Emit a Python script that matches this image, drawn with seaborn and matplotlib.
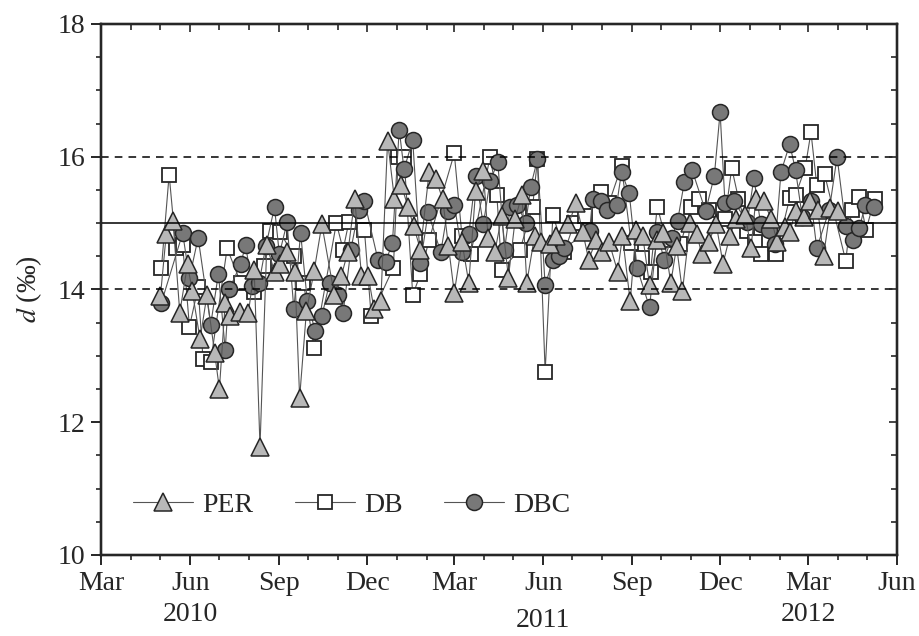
import numpy as np
import pandas as pd
import matplotlib
matplotlib.use('Agg')
import matplotlib.pyplot as plt
import matplotlib.dates as mdates
import matplotlib.transforms as mtransforms
import seaborn as sns

##################################################################
sns.set_style('ticks')
matplotlib.rcParams.update({'font.family': 'serif', 'font.serif': ['Liberation Serif', 'DejaVu Serif'],
                            'mathtext.fontset': 'stix'})
##################################################################
# sampling day (days since 2010-03-01) and d (permil) for each method
per_day = [61, 67, 74, 81, 89, 94, 102, 109, 117, 122, 128, 133, 143, 152, 158, 164, 171, 179, 185, 192,
           200, 205, 212, 220, 228, 241, 248, 255, 262, 269, 276, 282, 289, 296, 303, 310, 317, 323, 330, 339,
           346, 353, 359, 365, 373, 380, 387, 395, 400, 407, 414, 421, 428, 435, 440, 448, 455, 464, 470, 483,
           491, 498, 504, 512, 518, 525, 534, 539, 547, 553, 560, 567, 575, 581, 589, 595, 601, 609, 616, 621,
           628, 636, 643, 650, 656, 666, 672, 677, 685, 693, 699, 707, 712, 718, 727, 733, 741, 747, 754, 762]
per_val = [13.9, 14.83, 15.03, 13.65, 14.38, 13.97, 13.25, 13.91, 13.05, 12.5, 13.8, 13.6, 13.66, 13.65, 14.29,
           11.63, 14.67, 14.26, 14.38, 14.56, 14.26, 12.37, 13.67, 14.28, 14.98, 13.91, 14.2, 14.57, 15.36, 14.21,
           14.2, 13.7, 13.82, 16.24, 15.37, 15.58, 15.25, 14.95, 14.6, 15.77, 15.66, 15.36, 14.65, 13.95, 14.71,
           14.1, 15.48, 15.78, 14.78, 14.57, 15.1, 14.18, 15.06, 15.43, 14.1, 14.8, 14.72, 14.68, 14.8, 14.98,
           15.3, 14.86, 14.45, 14.75, 14.56, 14.72, 14.27, 14.8, 13.82, 14.9, 14.8, 14.06, 14.75, 14.85, 14.1,
           14.65, 13.97, 15.0, 14.83, 14.53, 14.72, 14.98, 14.39, 14.8, 15.06, 15.12, 14.62, 15.37, 15.33, 15.06,
           14.71, 14.94, 14.86, 15.18, 15.09, 15.33, 15.2, 14.5, 15.22, 15.18]

db_day = [62, 70, 77, 84, 91, 100, 105, 113, 130, 144, 158, 168, 174, 185, 199, 209, 220, 243, 250, 256,
          272, 279, 302, 307, 313, 322, 330, 339, 365, 373, 382, 402, 409, 414, 433, 446, 451, 459, 467, 479,
          489, 500, 517, 525, 538, 548, 559, 568, 575, 584, 599, 610, 618, 628, 645, 652, 659, 668, 676, 682,
          698, 712, 718, 728, 734, 740, 748, 770, 776, 784, 791, 800]
db_val = [14.32, 15.73, 14.62, 14.67, 13.44, 14.03, 12.96, 12.91, 14.62, 14.1, 13.96, 14.35, 14.88, 14.86, 14.5,
          14.1, 13.12, 15.0, 14.6, 15.02, 14.9, 13.6, 14.33, 16.0, 16.0, 13.92, 14.23, 14.75, 16.05, 14.8,
          14.53, 16.0, 15.43, 14.3, 14.6, 15.24, 15.96, 12.76, 15.12, 14.57, 15.0, 15.1, 15.47, 15.3, 15.86,
          14.7, 14.48, 14.27, 15.25, 14.75, 14.68, 15.24, 15.36, 15.2, 15.06, 15.83, 15.37, 14.88, 14.72, 14.53,
          14.53, 15.38, 15.42, 15.83, 16.37, 15.57, 15.74, 14.43, 15.2, 15.4, 14.9, 15.37]

dbc_day = [62, 84, 91, 100, 113, 121, 128, 132, 144, 149, 156, 163, 170, 179, 184, 192, 199, 206, 213, 221,
           228, 236, 245, 250, 258, 266, 272, 286, 294, 301, 308, 313, 322, 330, 338, 351, 358, 365, 373, 380,
           387, 395, 402, 410, 417, 423, 430, 439, 444, 451, 459, 467, 473, 479, 505, 508, 517, 523, 533, 538,
           546, 554, 567, 575, 582, 590, 596, 603, 611, 625, 634, 640, 645, 654, 668, 675, 682, 691, 697, 703,
           712, 718, 725, 734, 740, 753, 761, 770, 777, 784, 790, 799]
dbc_val = [13.8, 14.85, 14.17, 14.78, 13.47, 14.24, 13.09, 14.0, 14.38, 14.67, 14.05, 14.1, 14.65, 15.24, 14.53,
           15.01, 13.7, 14.85, 13.82, 13.38, 13.6, 14.1, 13.92, 13.65, 14.6, 15.2, 15.33, 14.45, 14.42, 14.7,
           16.41, 15.81, 16.25, 14.4, 15.16, 14.56, 15.18, 15.28, 14.56, 14.83, 15.71, 14.98, 15.63, 15.92, 14.6,
           15.25, 15.28, 15.0, 15.55, 15.96, 14.06, 14.45, 14.51, 14.63, 14.88, 15.36, 15.34, 15.2, 15.28, 15.77,
           15.45, 14.33, 13.73, 14.86, 14.45, 14.78, 15.03, 15.62, 15.8, 15.18, 15.71, 16.67, 15.31, 15.34, 15.01,
           15.68, 14.98, 14.9, 14.68, 15.77, 16.19, 15.8, 15.09, 15.34, 14.62, 15.2, 16.0, 14.95, 14.74, 14.92,
           15.27, 15.25]

years = ['2010', '2011', '2012']
year_pos = ['2010-06-01', '2011-06-01', '2012-03-01']

start = pd.Timestamp('2010-03-01')

def to_frame(days, vals, name):
    return pd.DataFrame({'date': start + pd.to_timedelta(days, unit='D'), 'd': vals, 'method': name})

df_per = to_frame(per_day, per_val, 'PER')
df_db = to_frame(db_day, db_val, 'DB')
df_dbc = to_frame(dbc_day, dbc_val, 'DBC')

############################################################################
plt.close('all')
fig = plt.figure(figsize=[9.2, 6.36], dpi=100)
ax = fig.add_axes([0.1103, 0.1274, 0.8647, 0.8349])

line_c = '#555555'
edge_c = '#262626'
sns.lineplot(data=df_db, x='date', y='d', ax=ax, estimator=None, sort=True, color=line_c, lw=0.8,
             marker='s', markersize=10, markerfacecolor='white', markeredgecolor=edge_c,
             markeredgewidth=1.3, label='DB', zorder=3)
sns.lineplot(data=df_dbc, x='date', y='d', ax=ax, estimator=None, sort=True, color=line_c, lw=0.8,
             marker='o', markersize=11.5, markerfacecolor='#787878', markeredgecolor=edge_c,
             markeredgewidth=1.1, label='DBC', zorder=4)
sns.lineplot(data=df_per, x='date', y='d', ax=ax, estimator=None, sort=True, color=line_c, lw=0.8,
             marker='^', markersize=13, markerfacecolor='#b8b8b8', markeredgecolor=edge_c,
             markeredgewidth=1.1, label='PER', zorder=5)

ax.axhline(16, color='k', ls=(0, (5, 4)), lw=1.1, zorder=6)
ax.axhline(14, color='k', ls=(0, (5, 4)), lw=1.1, zorder=6)
ax.axhline(15, color='k', ls='-', lw=1.1, zorder=6)

ax.set_xlim(pd.Timestamp('2010-03-01'), pd.Timestamp('2012-06-01'))
ax.set_ylim(10, 18)
ax.set_yticks([10, 12, 14, 16, 18])
ax.set_yticks(np.arange(10, 18.01, 0.5), minor=True)
ax.xaxis.set_major_locator(mdates.MonthLocator(bymonth=[3, 6, 9, 12]))
ax.xaxis.set_minor_locator(mdates.MonthLocator())
ax.xaxis.set_major_formatter(mdates.DateFormatter('%b'))
fz = 20
ax.tick_params(which='major', direction='out', length=7.2, width=1.4, labelsize=fz, pad=4.5)
ax.tick_params(which='minor', direction='out', length=3.8, width=1.2)
ax.set_xlabel('')
ax.set_ylabel(r'$d$ (‰)', fontsize=fz, labelpad=10)
for s in ax.spines.values():
    s.set_linewidth(1.6)
    s.set_visible(True)

# inward ticks on top and right
axt = ax.twiny()
axt.set_xlim(ax.get_xlim())
axt.xaxis.set_major_locator(mdates.MonthLocator(bymonth=[3, 6, 9, 12]))
axt.xaxis.set_minor_locator(mdates.MonthLocator())
axt.tick_params(which='both', direction='in', labeltop=False, width=1.2)
axt.tick_params(which='major', length=6)
axt.tick_params(which='minor', length=4)
axr = ax.twinx()
axr.set_ylim(ax.get_ylim())
axr.set_yticks([10, 12, 14, 16, 18])
axr.set_yticks(np.arange(10, 18.01, 0.5), minor=True)
axr.tick_params(which='both', direction='in', labelright=False, width=1.2)
axr.tick_params(which='major', length=6)
axr.tick_params(which='minor', length=4)
for a in (axt, axr):
    for s in a.spines.values():
        s.set_linewidth(1.6)

# year labels under the month ticks
trans = mtransforms.blended_transform_factory(ax.transData, ax.transAxes)
year_y = [-0.113, -0.124, -0.113]
for yr, pos, yy in zip(years, year_pos, year_y):
    ax.text(mdates.date2num(pd.Timestamp(pos)), yy, yr, transform=trans, ha='center', va='center',
            fontsize=fz)

handles, labels = ax.get_legend_handles_labels()
order = [labels.index(n) for n in ['PER', 'DB', 'DBC']]
ax.legend([handles[i] for i in order], [labels[i] for i in order], ncol=3, frameon=False,
          loc='center left', bbox_to_anchor=(0.04, 0.094), fontsize=fz, handlelength=2.16,
          columnspacing=1.5, handletextpad=0.32, borderpad=0, borderaxespad=0, numpoints=1)

fig.savefig('out.png', dpi=100)
